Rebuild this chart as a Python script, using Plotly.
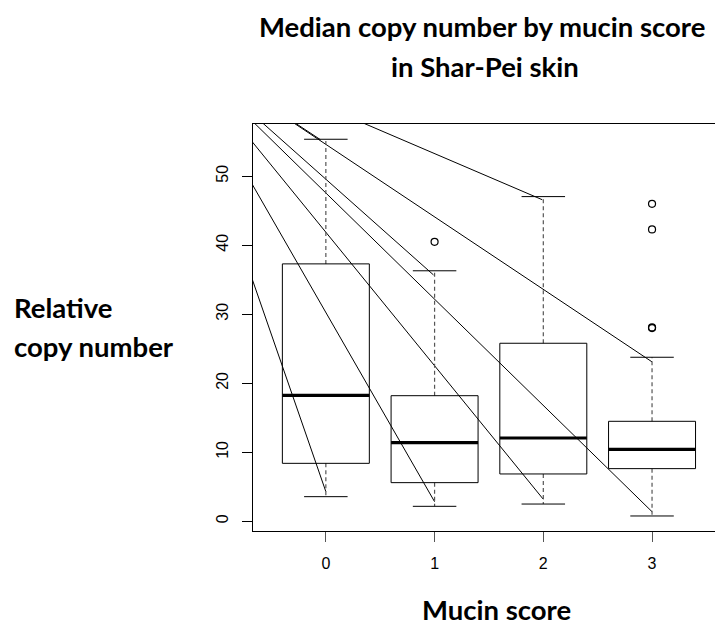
import plotly.graph_objects as go

# ---- data ----
scores = [0, 1, 2, 3]
score_labels = ["0", "1", "2", "3"]
q1 = [8.4, 5.6, 6.86, 7.63]
median = [18.26, 11.4, 12.07, 10.43]
q3 = [37.3, 18.2, 25.8, 14.49]
whisker_low = [3.57, 2.17, 2.5, 0.77]
whisker_high = [55.36, 36.3, 47.05, 23.77]
outlier_x = [1, 3, 3, 3, 3]
outlier_y = [40.5, 46.0, 42.3, 28.1, 28.0]

# stray lines converging from a common point above-left of the plot
line_origin = (-1.44, 69.75)
line_end_x = [-0.05, 0.0, 0.99, 1.0, 1.99, 2.0, 3.0, 3.0]
line_end_y = [55.3, 4.3, 35.7, 2.84, 46.6, 3.19, 23.1, 1.39]

y_ticks = [0, 10, 20, 30, 40, 50]

BOX_HALF = 0.4
CAP_HALF = 0.2

fig = go.Figure()

# stray lines (clipped by the plot area)
lx, ly = [], []
for ex, ey in zip(line_end_x, line_end_y):
    lx += [line_origin[0], ex, None]
    ly += [line_origin[1], ey, None]
fig.add_trace(go.Scatter(x=lx, y=ly, mode="lines",
                         line=dict(color="black", width=1), hoverinfo="skip"))

# whiskers (dashed)
wx, wy = [], []
for s, a, b, lo, hi in zip(scores, q1, q3, whisker_low, whisker_high):
    wx += [s, s, None, s, s, None]
    wy += [b, hi, None, a, lo, None]
fig.add_trace(go.Scatter(x=wx, y=wy, mode="lines",
                         line=dict(color="#555555", width=1.2, dash="4px,3px"),
                         hoverinfo="skip"))

# caps
cx, cy = [], []
for s, lo, hi in zip(scores, whisker_low, whisker_high):
    cx += [s - CAP_HALF, s + CAP_HALF, None, s - CAP_HALF, s + CAP_HALF, None]
    cy += [lo, lo, None, hi, hi, None]
fig.add_trace(go.Scatter(x=cx, y=cy, mode="lines",
                         line=dict(color="black", width=1), hoverinfo="skip"))

# boxes
bx, by = [], []
for s, a, b in zip(scores, q1, q3):
    bx += [s - BOX_HALF, s + BOX_HALF, s + BOX_HALF, s - BOX_HALF, s - BOX_HALF, None]
    by += [a, a, b, b, a, None]
fig.add_trace(go.Scatter(x=bx, y=by, mode="lines",
                         line=dict(color="black", width=1), hoverinfo="skip"))

# medians
mx, my = [], []
for s, m in zip(scores, median):
    mx += [s - BOX_HALF, s + BOX_HALF, None]
    my += [m, m, None]
fig.add_trace(go.Scatter(x=mx, y=my, mode="lines",
                         line=dict(color="black", width=3.2), hoverinfo="skip"))

# outliers
fig.add_trace(go.Scatter(x=outlier_x, y=outlier_y, mode="markers",
                         marker=dict(symbol="circle-open", size=7,
                                     color="black", line=dict(width=1.2)),
                         hoverinfo="skip"))

W, H = 715, 626
L, R, T, B = 253, 0, 124, 95
pw, ph = W - L - R, H - T - B


def px(xp):
    return (xp - L) / pw


def py(yp):
    return (H - B - yp) / ph


title_font = dict(family="Lato", size=27.5, color="black", weight="bold")

annotations = [
    dict(text="Median copy number by mucin score", x=px(482), y=py(27),
         xanchor="center", yanchor="middle", font=title_font),
    dict(text="in Shar-Pei skin", x=px(485), y=py(66),
         xanchor="center", yanchor="middle", font=title_font),
    dict(text="Relative", x=px(12), y=py(307),
         xanchor="left", yanchor="middle", font=title_font),
    dict(text="copy number", x=px(12), y=py(346),
         xanchor="left", yanchor="middle", font=title_font),
    dict(text="Mucin score", x=px(496), y=py(609),
         xanchor="center", yanchor="middle", font=title_font),
]
for a in annotations:
    a.update(xref="paper", yref="paper", showarrow=False)

fig.update_layout(
    width=W, height=H,
    margin=dict(l=L, r=R, t=T, b=B, pad=0),
    paper_bgcolor="white", plot_bgcolor="white",
    showlegend=False,
    annotations=annotations,
    xaxis=dict(range=[-0.67, 3.579], tickmode="array", tickvals=scores,
               ticktext=score_labels, showgrid=False, zeroline=False,
               showline=True, linecolor="black", linewidth=1, mirror=True,
               ticks="outside", ticklen=10, tickcolor="#555555", tickwidth=1,
               ticklabelstandoff=8,
               tickfont=dict(family="Liberation Sans", size=16, color="black")),
    yaxis=dict(range=[-1.406, 57.57], tickmode="array", tickvals=y_ticks,
               showgrid=False, zeroline=False,
               showline=True, linecolor="black", linewidth=1,
               ticks="outside", ticklen=10, tickcolor="black", tickwidth=1,
               tickangle=-90, ticklabelstandoff=8,
               tickfont=dict(family="Liberation Sans", size=16, color="black")),
)

fig.write_html("out.html",
               config={"displayModeBar": False},
               post_script="document.body.style.margin='0';"
                           "document.body.style.overflow='hidden';")
